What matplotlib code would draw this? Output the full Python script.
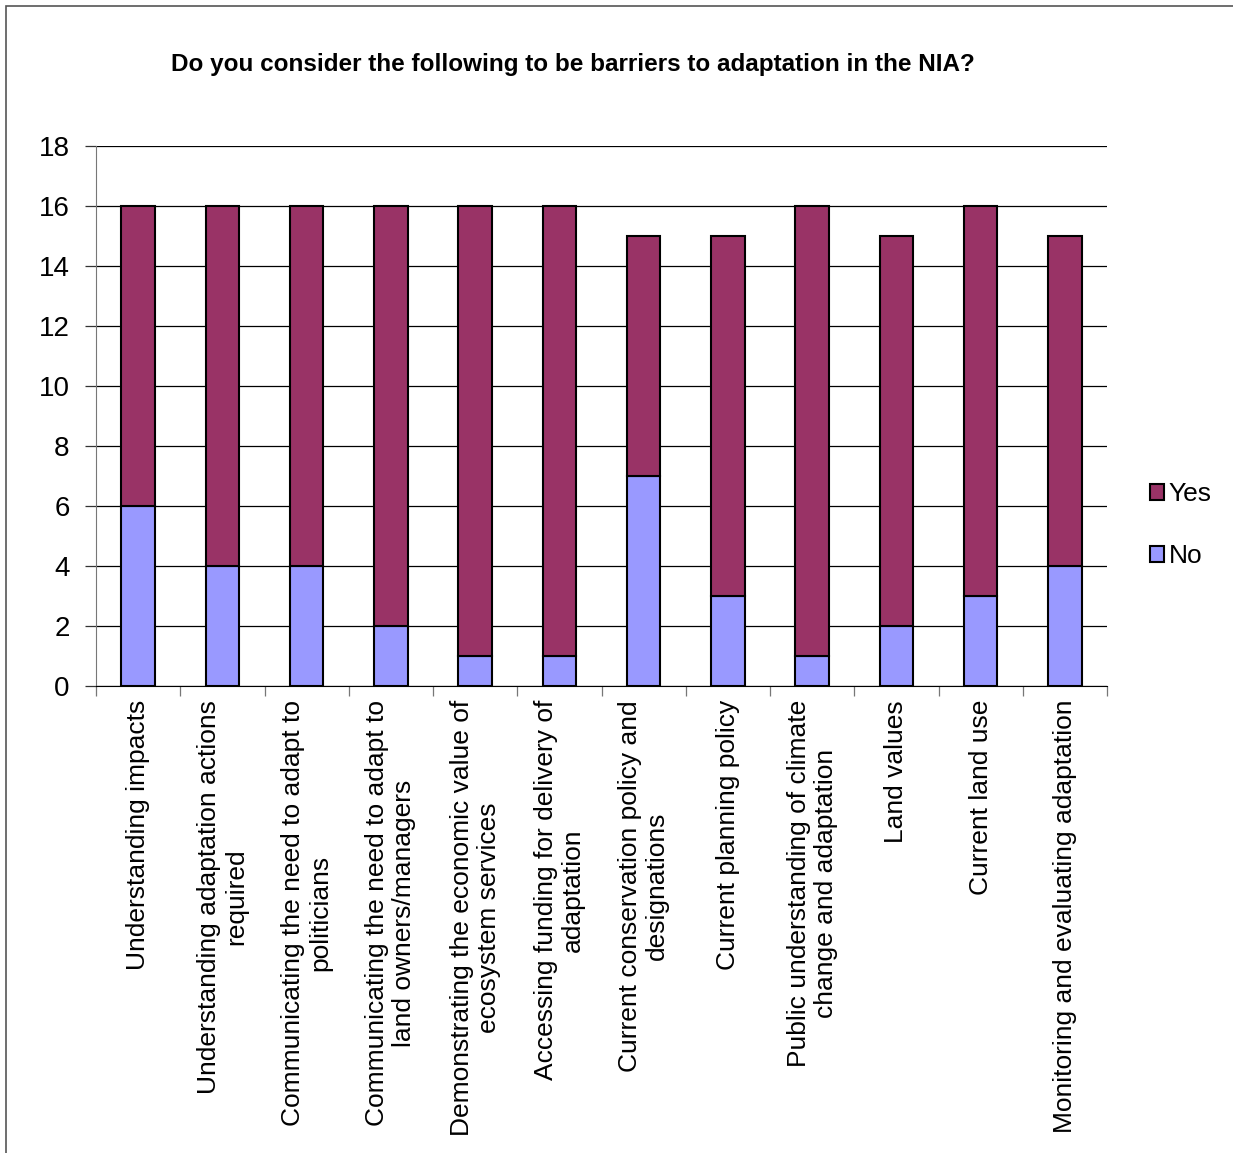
import matplotlib.pyplot as plt
import numpy as np

plt.rcParams['font.family'] = ['Liberation Sans', 'DejaVu Sans']

categories = [
    "Understanding impacts",
    "Understanding adaptation actions\nrequired",
    "Communicating the need to adapt to\npoliticians",
    "Communicating the need to adapt to\nland owners/managers",
    "Demonstrating the economic value of\necosystem services",
    "Accessing funding for delivery of\nadaptation",
    "Current conservation policy and\ndesignations",
    "Current planning policy",
    "Public understanding of climate\nchange and adaptation",
    "Land values",
    "Current land use",
    "Monitoring and evaluating adaptation",
]
no_counts = [6, 4, 4, 2, 1, 1, 7, 3, 1, 2, 3, 4]
yes_counts = [10, 12, 12, 14, 15, 15, 8, 12, 15, 13, 13, 11]

fig = plt.figure(figsize=(12.33, 11.53), dpi=100)

# outer chart border, as in the spreadsheet export
fig.patches.append(plt.Rectangle((6 / 1233, -0.01), 1.05, 1 - 6 / 1153 + 0.01,
                                 transform=fig.transFigure, fill=False,
                                 edgecolor='#555555', linewidth=1.2))

ax = fig.add_axes([96 / 1233, 1 - 686 / 1153, (1107 - 96) / 1233, 540 / 1153])

x = np.arange(len(categories))
width = 0.4
b_no = ax.bar(x, no_counts, width, color='#9999FF', edgecolor='black', linewidth=1.5,
              label='No', zorder=3)
b_yes = ax.bar(x, yes_counts, width, bottom=no_counts, color='#993366', edgecolor='black',
               linewidth=1.5, label='Yes', zorder=3)

ax.set_xlim(-0.5, len(categories) - 0.5)
ax.set_ylim(0, 18)
ax.set_yticks(range(0, 19, 2))
ax.yaxis.grid(True, color='black', linewidth=0.9, zorder=0)
ax.tick_params(axis='y', labelsize=20, length=8, width=0.9, pad=11, color='#333333')

# category ticks sit between the bars
ax.set_xticks(np.arange(-0.5, len(categories), 1), minor=False)
ax.set_xticklabels([])
ax.tick_params(axis='x', length=7, width=0.9, color='#777777')
ax.set_xticks(x, minor=True)
ax.set_xticklabels(categories, minor=True, rotation=90, fontsize=19,
                   ha='center', va='top', multialignment='center', linespacing=1.15)
ax.tick_params(axis='x', which='minor', length=0, pad=10)

for side in ['top', 'right']:
    ax.spines[side].set_visible(False)
ax.spines['left'].set_color('#777777')
ax.spines['bottom'].set_color('black')

fig.text(573 / 1233, 1 - 65 / 1153, 'Do you consider the following to be barriers to adaptation in the NIA?',
         ha='center', va='center', fontsize=17.5, fontweight='bold')

ax.legend(handles=[b_yes, b_no], labels=['Yes', 'No'], loc='center left',
          bbox_to_anchor=(1.032, 0.298), borderaxespad=0, frameon=False, fontsize=19,
          handlelength=0.55, handleheight=0.55, handletextpad=0.15, labelspacing=1.45)

fig.savefig('out.png', dpi=100)
